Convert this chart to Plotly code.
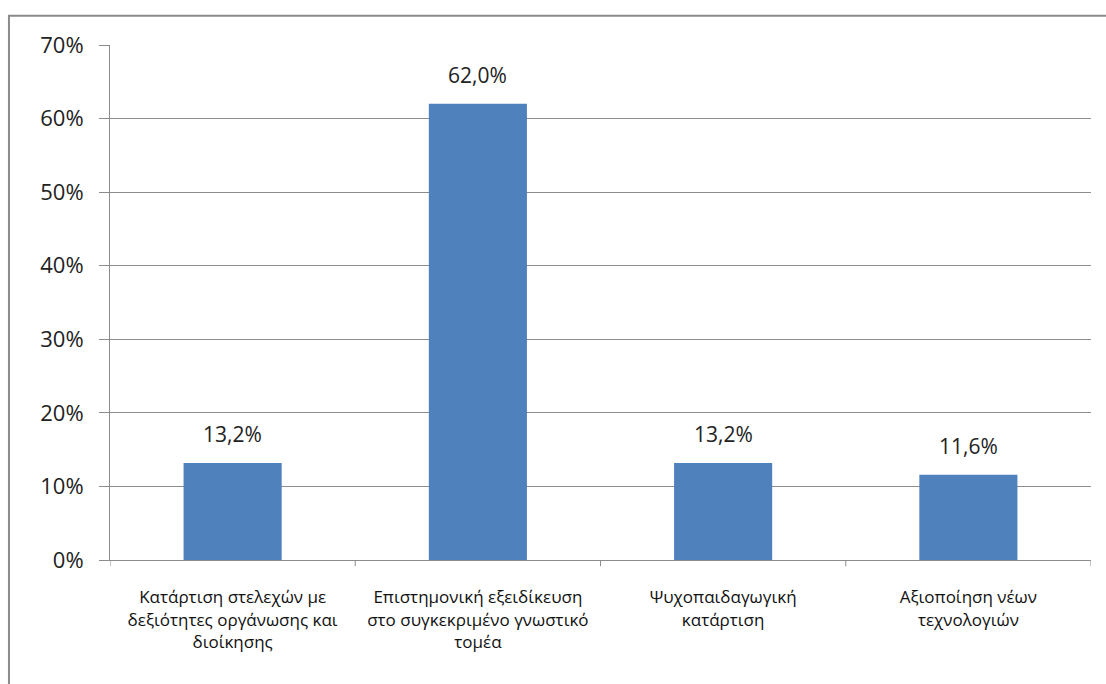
import plotly.graph_objects as go

# Training needs survey: share of responses per category
categories = [
    "Κατάρτιση στελεχών με<br>δεξιότητες οργάνωσης και<br>διοίκησης",
    "Επιστημονική εξειδίκευση<br>στο συγκεκριμένο γνωστικό<br>τομέα",
    "Ψυχοπαιδαγωγική<br>κατάρτιση",
    "Αξιοποίηση νέων<br>τεχνολογιών",
]
shares = [0.132, 0.620, 0.132, 0.116]
y_ticks = [0, 0.1, 0.2, 0.3, 0.4, 0.5, 0.6, 0.7]

BAR_COLOR = "#4F81BD"
GRID_COLOR = "#8C8C8C"
FONT = "Open Sans, Noto Sans, DejaVu Sans, sans-serif"

fig = go.Figure(
    go.Bar(
        x=list(range(len(categories))),
        y=shares,
        marker=dict(color=BAR_COLOR, line=dict(width=0)),
        width=0.4,
        hoverinfo="skip",
    )
)

# value labels above each bar
for i, v in enumerate(shares):
    fig.add_annotation(
        x=i, y=v, xref="x", yref="y",
        text=f"{v*100:.1f}%".replace(".", ","),
        showarrow=False, yanchor="bottom", yshift=13,
        font=dict(family=FONT, size=21, color="#222222"),
    )

# outer chart frame
fig.add_shape(
    type="rect", xref="paper", yref="paper",
    x0=-0.103, x1=1.05, y0=-0.3, y1=1.057,
    line=dict(color="#8A8A8A", width=2), fillcolor="rgba(0,0,0,0)",
    layer="below",
)

fig.update_layout(
    width=1106, height=684,
    margin=dict(l=110, r=15, t=45, b=124),
    paper_bgcolor="white", plot_bgcolor="white",
    separators=",.",
    showlegend=False,
    bargap=0.6,
    xaxis=dict(
        range=[-0.5, 3.5],
        tickmode="array",
        tickvals=list(range(len(categories))),
        ticktext=categories,
        showgrid=False,
        showline=True, linecolor=GRID_COLOR, linewidth=1,
        ticks="", ticklabelstandoff=22,
        tickfont=dict(family=FONT, size=17, color="#111111"),
        zeroline=False,
        fixedrange=True,
    ),
    yaxis=dict(
        range=[0, 0.7],
        tickmode="array",
        tickvals=y_ticks,
        tickformat=".0%",
        showgrid=True, gridcolor=GRID_COLOR, gridwidth=1,
        showline=True, linecolor=GRID_COLOR, linewidth=1,
        ticks="outside", ticklen=10, tickcolor=GRID_COLOR,
        ticklabelstandoff=11,
        tickfont=dict(family=FONT, size=22, color="#222222"),
        zeroline=False,
        fixedrange=True,
    ),
)

# category boundary tick marks below the x axis
for b in [-0.5, 0.5, 1.5, 2.5, 3.5]:
    fig.add_shape(
        type="line", xref="x", yref="paper",
        x0=b, x1=b, y0=0, y1=-0.012,
        line=dict(color=GRID_COLOR, width=1),
    )

fig.write_html("out.html")
